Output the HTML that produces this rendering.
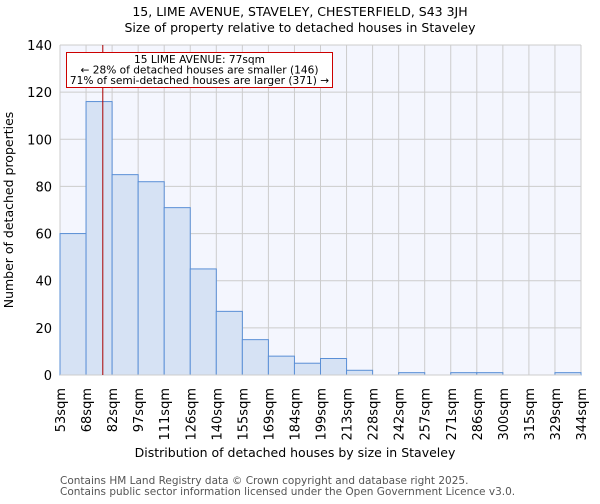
<!DOCTYPE html>
<html><head><meta charset="utf-8"><style>
body{margin:0;background:#fff;font-family:"DejaVu Sans","Liberation Sans",sans-serif;}
</style></head><body>
<svg id="chart" width="600" height="500" xmlns="http://www.w3.org/2000/svg" font-family="DejaVu Sans, Liberation Sans, sans-serif">
<text x="300" y="16" text-anchor="middle" font-size="12.5">15, LIME AVENUE, STAVELEY, CHESTERFIELD, S43 3JH</text>
<text x="300" y="32" text-anchor="middle" font-size="12.5">Size of property relative to detached houses in Staveley</text>
<rect x="60" y="45" width="521" height="330" fill="#f4f6fe"/>
<g id="grid"></g>
<g id="bars"></g>
<g id="axes"></g>
<text x="295" y="457" text-anchor="middle" font-size="12.5">Distribution of detached houses by size in Staveley</text>
<text transform="translate(13,210) rotate(-90)" text-anchor="middle" font-size="12.5">Number of detached properties</text>
<text x="60" y="484" font-size="10.5" fill="#555">Contains HM Land Registry data © Crown copyright and database right 2025.</text>
<text x="60" y="495" font-size="10.5" fill="#555">Contains public sector information licensed under the Open Government Licence v3.0.</text>
</svg>
<script>
const binLabels=["53sqm","68sqm","82sqm","97sqm","111sqm","126sqm","140sqm","155sqm","169sqm","184sqm","199sqm","213sqm","228sqm","242sqm","257sqm","271sqm","286sqm","300sqm","315sqm","329sqm","344sqm"];
const binEdges=[53,68,82,97,111,126,140,155,169,184,199,213,228,242,257,271,286,300,315,329,344];
const counts=[60,116,85,82,71,45,27,15,8,5,7,2,0,1,0,1,1,0,0,1];
const yTicks=[0,20,40,60,80,100,120,140];
const propertySize=77;
const NS="http://www.w3.org/2000/svg";
const X0=60,X1=581,Y0=375,Y1=45,YMAX=140;
const nb=counts.length,bw=(X1-X0)/nb;
const xi=i=>X0+i*bw;
const y=v=>Y0-(v/YMAX)*(Y0-Y1);
function xv(v){for(let i=0;i<nb;i++){if(v<=binEdges[i+1])return xi(i)+(v-binEdges[i])/(binEdges[i+1]-binEdges[i])*bw;}return X1;}
function mk(t,a,p){const e=document.createElementNS(NS,t);for(const k in a)e.setAttribute(k,a[k]);p.appendChild(e);return e;}
const grid=document.getElementById('grid'),bars=document.getElementById('bars'),axes=document.getElementById('axes');
yTicks.forEach(t=>{const l=mk('line',{x1:X0,x2:X1,y1:y(t),y2:y(t),stroke:'#ccc'},grid);


const tx=mk('text',{x:X0-8,y:y(t)+5,'text-anchor':'end','font-size':'13'},axes);tx.textContent=t;

});
binLabels.forEach((lb,i)=>{const l=mk('line',{x1:xi(i),x2:xi(i),y1:Y1,y2:Y0,stroke:'#ccc'},grid);


const tx=mk('text',{transform:`translate(${xi(i)+5},388) rotate(-90)`,'text-anchor':'end','font-size':'13'},axes);tx.textContent=lb;

});
counts.forEach((c,i)=>{if(c<=0)return;const r=mk('rect',{x:xi(i),y:y(c),width:bw,height:Y0-y(c),fill:'#d6e2f4',stroke:'#5a8fd6','stroke-width':'1'},bars);

});
const ax=mk('line',{x1:X0,x2:X1,y1:Y0,y2:Y0,stroke:'#ccc'},axes);


const mx=xv(propertySize);
const ml=mk('line',{x1:mx,x2:mx,y1:Y1,y2:Y0,stroke:'#a00','stroke-width':'1'},axes);


const g=mk('g',{},axes);


mk('rect',{x:66.5,y:52.5,width:266,height:35,fill:'#fff',stroke:'#c00'},g);
[["15 LIME AVENUE: 77sqm",63],["← 28% of detached houses are smaller (146)",73.5],["71% of semi-detached houses are larger (371) →",84]].forEach(([t,yy])=>{const e=mk('text',{x:199.5,y:yy,'text-anchor':'middle','font-size':'10.6'},g);e.textContent=t;

});
</script>
</body></html>
